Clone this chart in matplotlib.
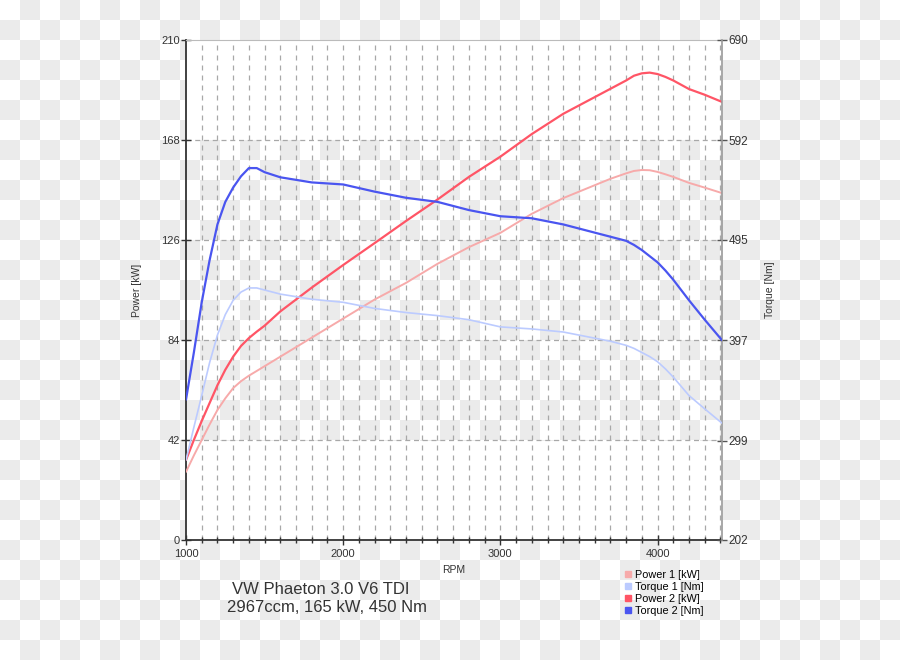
import matplotlib
matplotlib.use("Agg")
import matplotlib.pyplot as plt
import numpy as np
from matplotlib.lines import Line2D
from matplotlib.ticker import MultipleLocator

plt.rcParams["font.family"] = ["Liberation Sans", "DejaVu Sans"]

# rpm sample points
RPM = [1000, 1050, 1100, 1150, 1200, 1250, 1300, 1350, 1400, 1450, 1500,
       1600, 1800, 2000, 2200, 2400, 2600, 2800, 3000, 3200, 3400, 3600,
       3700, 3800, 3850, 3900, 3950, 4000, 4050, 4100, 4200, 4300, 4410]

POWER_1 = [28.6, 35.5, 42, 48.5, 54.6, 59.5, 63.8, 66.7, 69, 71, 73,
           77, 85, 93, 101, 108, 116, 123, 129, 137, 143.6, 149,
           151.7, 154, 155, 155.4, 155.3, 154.6, 153.6, 152.5, 150, 148, 145.7]
TORQUE_1 = [280, 312, 343, 375, 402, 422, 436, 444, 448, 448, 446,
            442, 437, 434, 428, 424, 421, 417, 410, 408, 405, 399,
            396, 392, 389, 385, 381, 376, 369, 361, 343, 330, 316]
POWER_2 = [33.6, 42, 50, 57.5, 65, 71.5, 77, 81.5, 84.8, 87.5, 90,
           96, 106, 115.5, 124.7, 134, 143, 152.5, 161, 170.5, 179, 186,
           189.5, 193, 195, 196, 196.3, 195.7, 194.5, 193, 189.4, 187, 184]
TORQUE_2 = [339, 385, 434, 475, 510, 532, 546, 557, 565, 565, 561,
            556, 551, 549, 542, 536, 532, 524, 518, 516, 510, 502,
            498, 494, 490, 485, 479, 473, 465, 456, 436, 417, 397]

SERIES_LABELS = ["Power 1 [kW]", "Torque 1 [Nm]", "Power 2 [kW]", "Torque 2 [Nm]"]
COLORS = ["#f7aaaa", "#bccbff", "#ff5566", "#4a55f0"]

KW_TICKS = [0, 42, 84, 126, 168, 210]
NM_TICKS = [202, 299, 397, 495, 592, 690]
RPM_TICKS = [1000, 2000, 3000, 4000]

W, H = 900, 660
L, R, T, B = 186, 722, 40, 540

fig = plt.figure(figsize=(W / 100, H / 100), dpi=100)

# checkerboard background like the transparent source image
yy, xx = np.mgrid[0:H, 0:W]
img = np.where(((xx // 20) + (yy // 20)) % 2 == 1, 0.922, 1.0)
inside = (xx >= L) & (xx <= R) & (yy >= T) & (yy <= B)
band = (yy >= 140) & (yy <= 440)
img[inside & ~band] = 1.0
bg = fig.add_axes([0, 0, 1, 1], zorder=-5)
bg.imshow(np.dstack([img, img, img]), aspect="auto", interpolation="nearest")
bg.axis("off")

ax = fig.add_axes([L / W, 1 - B / H, (R - L) / W, (B - T) / H])
ax.set_facecolor("none")
ax.set_xlim(1000, 4410)
ax.set_ylim(0, 210)

ax2 = ax.twinx()
ax2.set_ylim(202, 690)

for x in np.arange(1100, 4401, 100):
    ax.axvline(x, color="#a8a8a8", lw=0.9, ls=(0, (4, 4)), zorder=1)
for y in KW_TICKS[1:-1]:
    ax.axhline(y, color="#a8a8a8", lw=0.9, ls=(0, (4, 3)), zorder=1)

style = dict(solid_joinstyle="round", solid_capstyle="round")
ax.plot(RPM, POWER_1, color=COLORS[0], lw=1.4, zorder=3, **style)
ax2.plot(RPM, TORQUE_1, color=COLORS[1], lw=1.2, zorder=3, **style)
ax.plot(RPM, POWER_2, color=COLORS[2], lw=1.6, zorder=4, **style)
ax2.plot(RPM, TORQUE_2, color=COLORS[3], lw=1.6, zorder=4, **style)

ax.set_yticks(KW_TICKS)
ax.set_xticks(RPM_TICKS)
ax.xaxis.set_minor_locator(MultipleLocator(100))
ax2.set_yticks(NM_TICKS)

ax.tick_params(axis="both", which="major", direction="inout", length=7, width=1,
               colors="#333333", labelsize=8, pad=1)
ax.tick_params(axis="x", which="minor", direction="inout", length=5, width=1, color="#333333")
ax.tick_params(axis="x", which="major", pad=3)
ax2.tick_params(axis="y", direction="inout", length=7, width=1, colors="#555555",
                labelsize=8.5, pad=1, labelcolor="#333333")

ax.spines["left"].set_color("#333333")
ax.spines["left"].set_linewidth(1.3)
ax.spines["bottom"].set_color("#333333")
ax.spines["bottom"].set_linewidth(1.3)
ax.spines["top"].set_color("#bbbbbb")
ax.spines["right"].set_visible(False)
ax2.spines["right"].set_color("#999999")
ax2.spines["right"].set_linewidth(1.2)
for s in ["left", "top", "bottom"]:
    ax2.spines[s].set_visible(False)

ax.set_ylabel("Power [kW]", fontsize=7.5, color="#333333", labelpad=14)
ax2.set_ylabel("Torque [Nm]", fontsize=7.5, color="#333333", rotation=90, labelpad=12)
ax.set_xlabel("RPM", fontsize=7.5, color="#333333", labelpad=4)

fig.text(232 / W, 1 - 590 / H, "VW Phaeton 3.0 V6 TDI", fontsize=12, color="#333333", va="center")
fig.text(227 / W, 1 - 608 / H, "2967ccm, 165 kW, 450 Nm", fontsize=12, color="#333333", va="center")

handles = [Line2D([], [], ls="none", marker="s", markersize=4.5, color=c) for c in COLORS]
fig.legend(handles, SERIES_LABELS, loc="upper left", bbox_to_anchor=(625 / W, 1 - 570 / H),
           frameon=False, fontsize=7.8, handlelength=0.6, handletextpad=0.3,
           labelspacing=0.18, borderpad=0, borderaxespad=0)

fig.savefig("out.png", dpi=100)
